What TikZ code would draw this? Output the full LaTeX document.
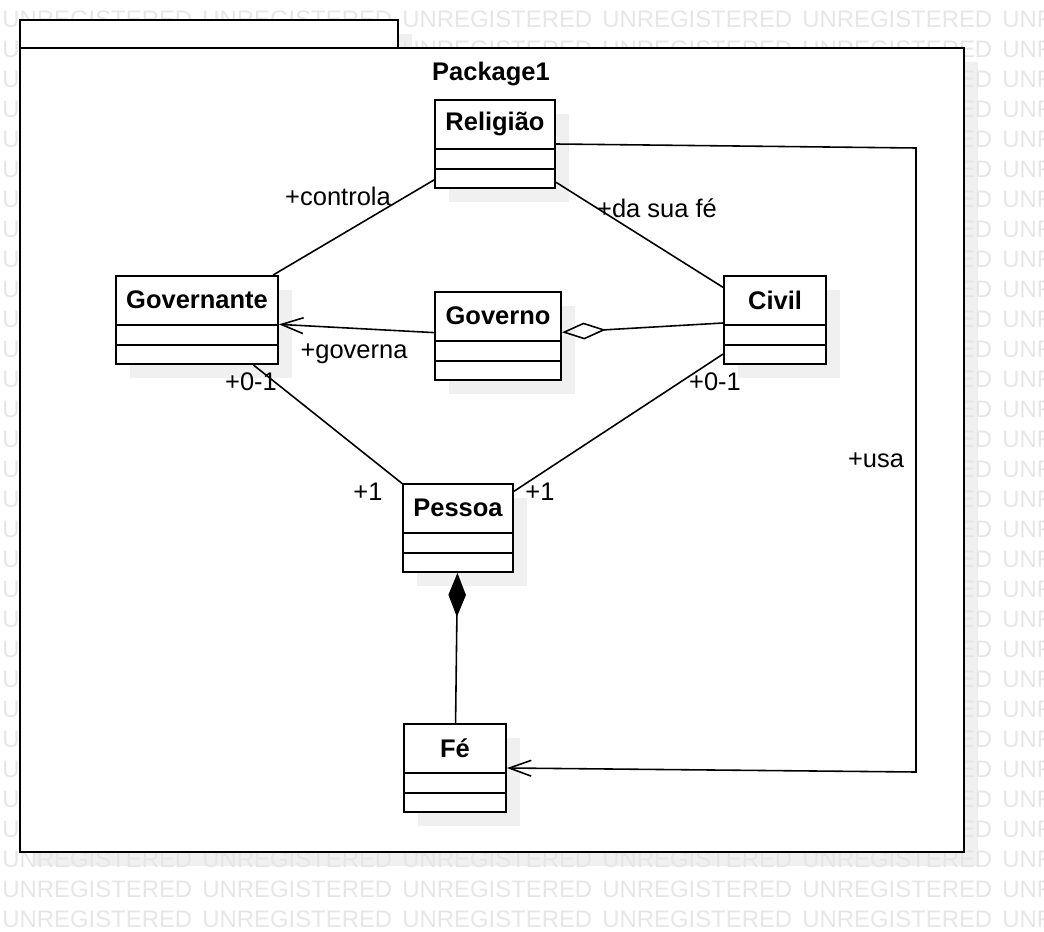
\documentclass[tikz,border=0pt]{standalone}
\usepackage{fontspec}
\setmainfont{Liberation Sans}
\usetikzlibrary{arrows.meta,calc}

\definecolor{shadowgray}{HTML}{F0F0F0}
\definecolor{markgray}{HTML}{E6E6E6}

\tikzset{
  classbox/.style={draw, line width=1.1pt, fill=white, minimum height=1.76cm, inner sep=0pt},
  classline/.style={line width=1.1pt},
  classname/.style={font=\bfseries\fontsize{14.5}{16}\selectfont, inner sep=0pt},
  rolelabel/.style={font=\fontsize{14.5}{16}\selectfont, inner sep=0pt},
  watermark/.style={anchor=west, inner sep=0pt, text=markgray, font=\fontsize{13.6}{15}\selectfont},
  pkgline/.style={line width=1.2pt, fill=white},
  assoc/.style={line width=0.9pt},
  navig/.style={line width=0.9pt, -{Straight Barb[length=12.5pt,width=9pt]}},
  aggreg/.style={line width=0.9pt, -{Diamond[open,length=25pt,width=9.6pt]}},
  compos/.style={line width=0.9pt, -{Diamond[length=25pt,width=10pt]}}
}

% name, centre, width (px), title
\newcommand\umlclass[4]{%
  \fill[shadowgray] ($(#2)+(-#3/2+14,-30)$) rectangle ($(#2)+(#3/2+14,58)$);
  \node[classbox, minimum width=#3*0.02cm] (#1) at (#2) {};
  \node[classname] (#1-name) at ($(#1.north)+(0,25)$) {#4};
  \draw[classline] ($(#1.north west)+(0,50)$) -- ($(#1.north east)+(0,50)$);
  \draw[classline] ($(#1.north west)+(0,70)$) -- ($(#1.north east)+(0,70)$);
}

\begin{document}
\begin{tikzpicture}[x=0.02cm, y=-0.02cm]
  \useasboundingbox (0,0) rectangle (1044,932);

  % package shadow
  \fill[shadowgray] (34,34) rectangle (412,62);
  \fill[shadowgray] (34,62) rectangle (978,866);

  % background marks
  \foreach \r in {0,...,30}{
    \foreach \c in {0,...,5}{
      \node[watermark] (wm-\r-\c) at (2+\c*200, 19+\r*30) {UNREGISTERED};
    }
  }

  % package
  \draw[pkgline] (20,20) rectangle (398,48);
  \draw[pkgline] (20,48) rectangle (964,852);
  \node[classname] (pkg-name) at (491,74) {Package1};

  % classes
  \umlclass{rel}{495,144}{120}{Religião}
  \umlclass{gvt}{197,320}{162}{Governante}
  \umlclass{gvn}{498,336}{126}{Governo}
  \umlclass{civ}{775,320}{102}{Civil}
  \umlclass{pes}{458,528}{110}{Pessoa}
  \umlclass{fe}{455,768}{102}{Fé}

  % connectors
  \draw[assoc] (rel) -- (gvt);
  \draw[assoc] (rel) -- (civ);
  \draw[navig] (gvn) -- (gvt);
  \draw[aggreg] (civ) -- (gvn);
  \draw[assoc] (gvt) -- (pes);
  \draw[assoc] (civ) -- (pes);
  \draw[compos] (fe) -- (pes);
  \coordinate (usa-top) at (916,148);
  \coordinate (usa-bot) at (916,772);
  \draw[navig] (rel.east) -- (usa-top) -- (usa-bot) -- (fe.east);

  % labels
  \node[rolelabel] (lbl-controla) at (338,196) {+controla};
  \node[rolelabel] (lbl-fe) at (657,208) {+da sua fé};
  \node[rolelabel] (lbl-governa) at (354,354) {+governa};
  \node[rolelabel] (lbl-gvt-m) at (251,382) {+0-1};
  \node[rolelabel] (lbl-pes-l) at (368,492) {+1};
  \node[rolelabel] (lbl-civ-m) at (715,382) {+0-1};
  \node[rolelabel] (lbl-pes-r) at (540,492) {+1};
  \node[rolelabel] (lbl-usa) at (876,460) {+usa};
\end{tikzpicture}
\end{document}
